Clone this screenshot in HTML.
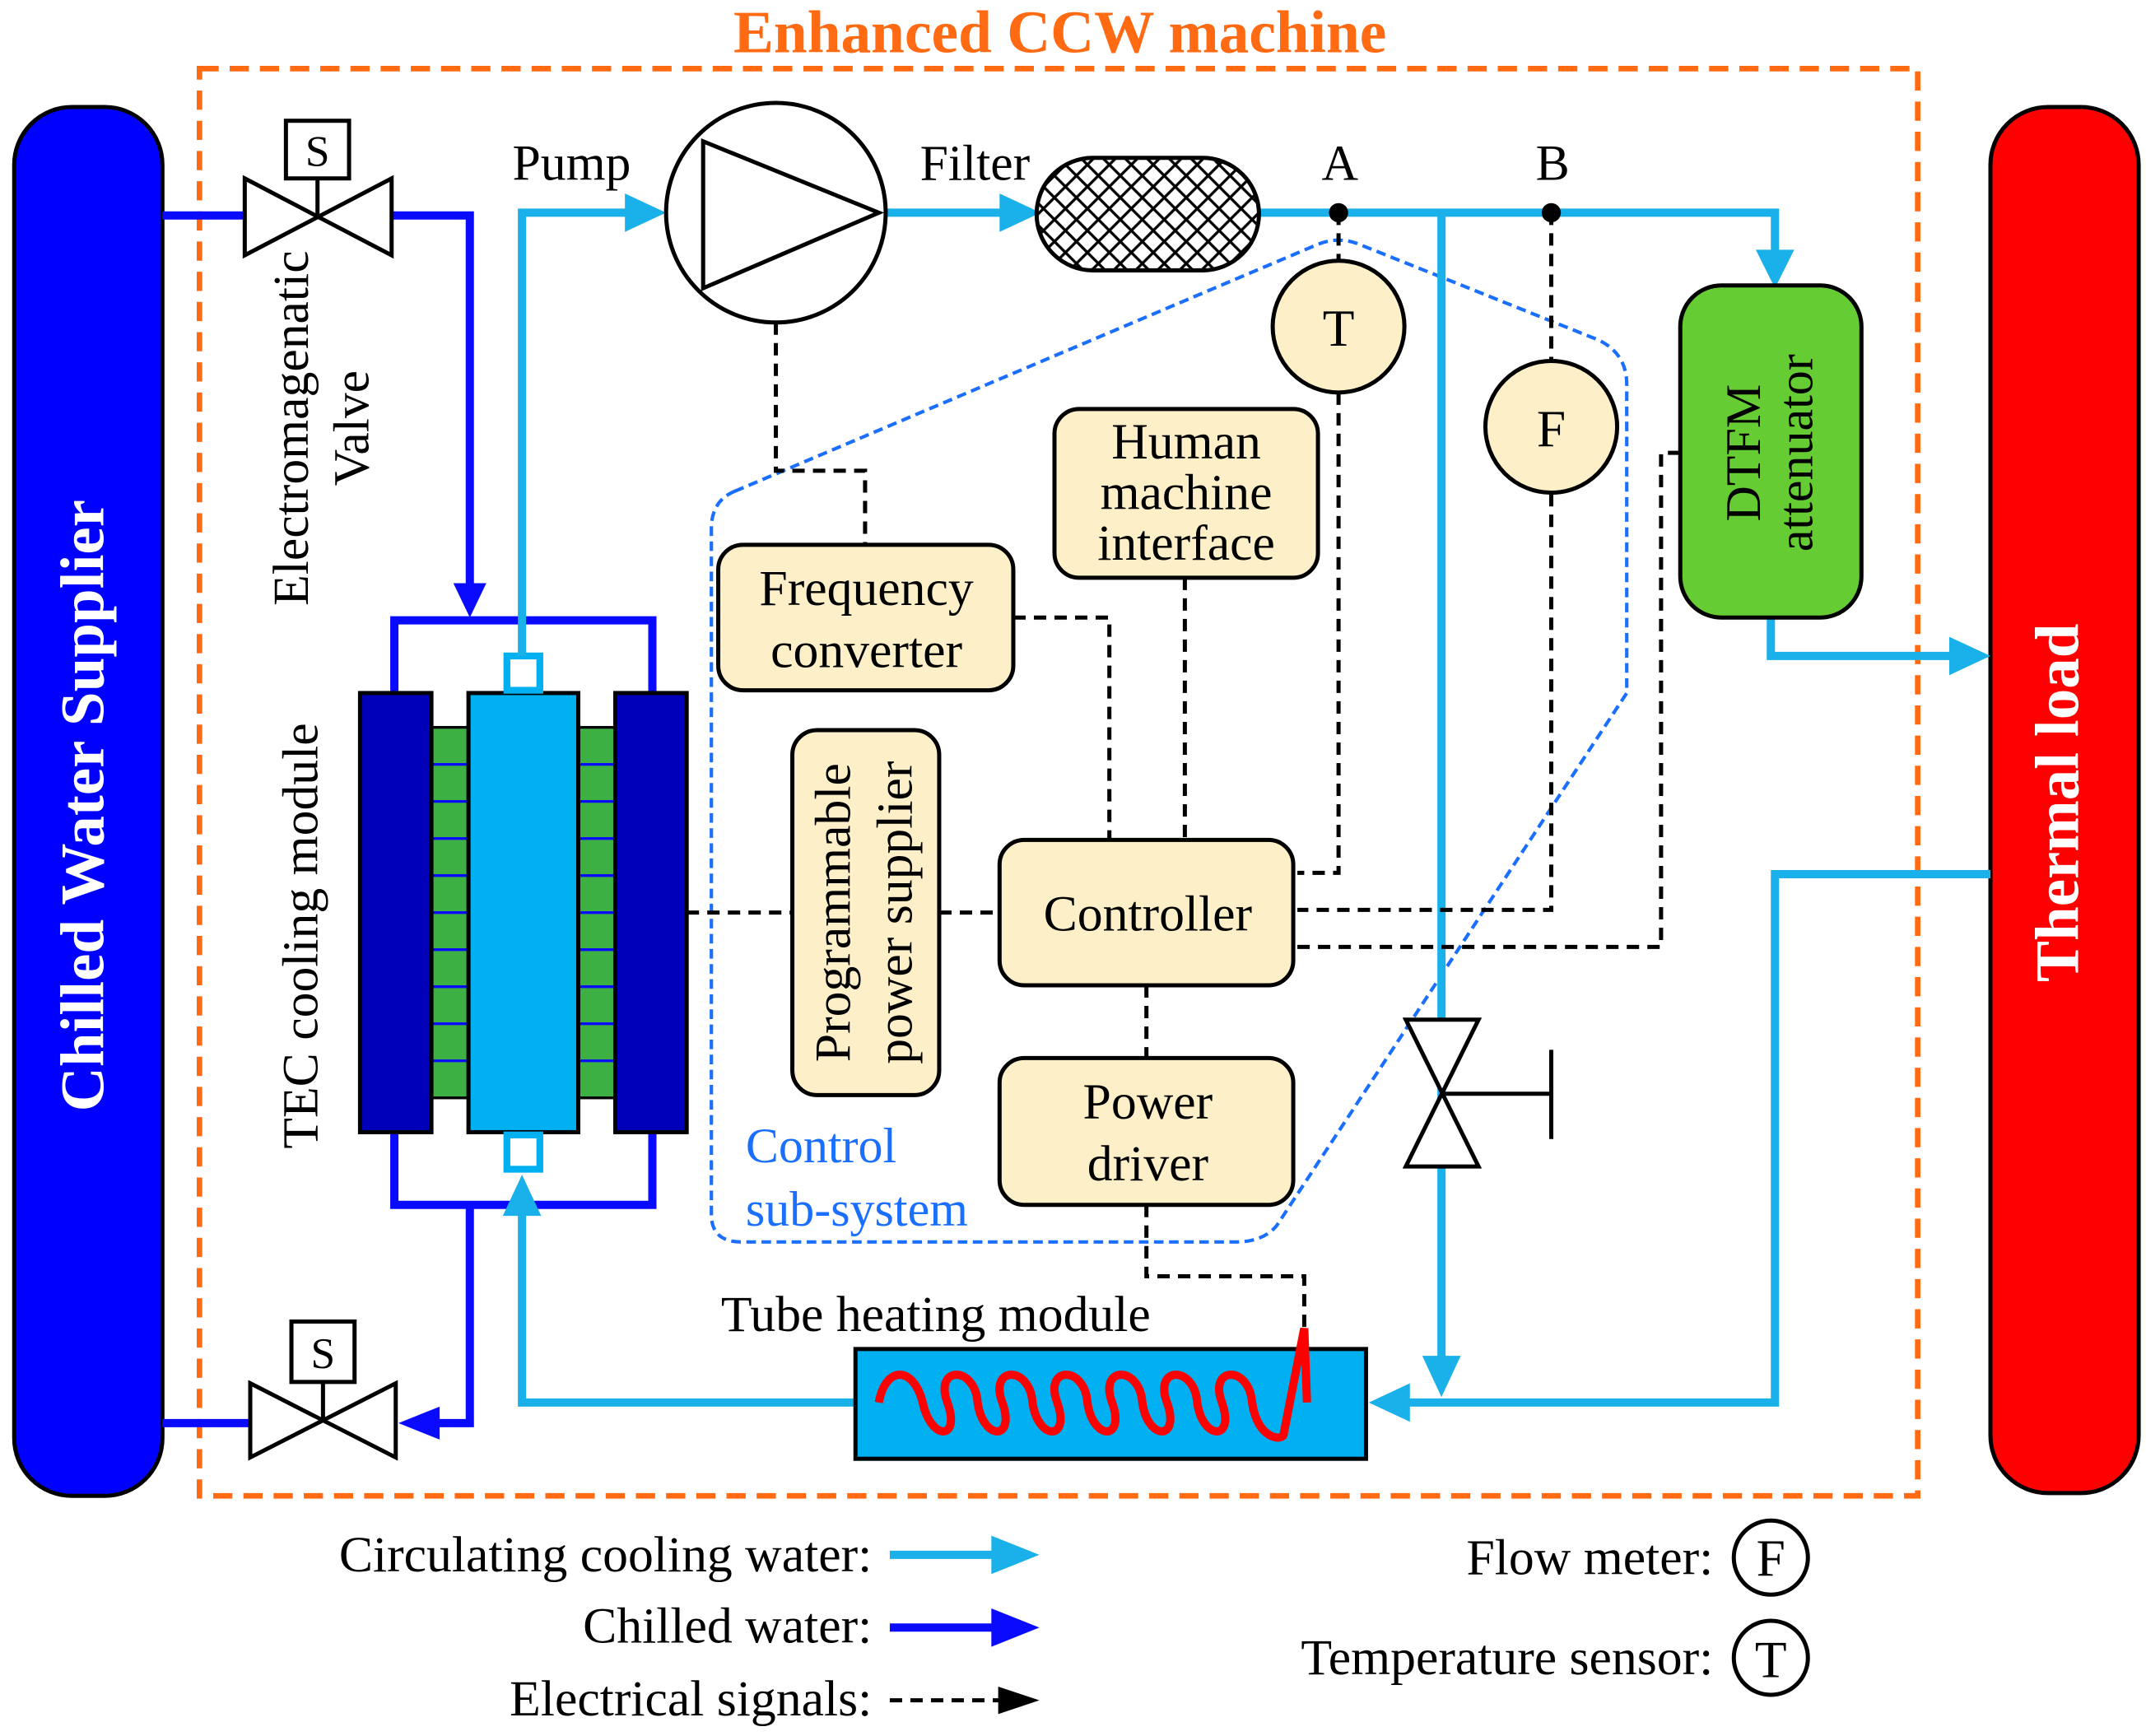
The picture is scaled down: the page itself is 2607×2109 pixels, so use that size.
<!DOCTYPE html>
<html><head><meta charset="utf-8"><style>
html,body{margin:0;padding:0;background:#fff}
svg{display:block}
text{font-family:"Liberation Serif",serif}
</style></head><body>
<svg width="2607" height="2109" viewBox="0 0 1563 1265" xmlns="http://www.w3.org/2000/svg">
<defs>
<pattern id="hatch" width="16" height="16" patternUnits="userSpaceOnUse">
<rect width="16" height="16" fill="#fff"/>
<path d="M0 0L16 16M16 0L0 16" stroke="#000" stroke-width="2"/>
</pattern>
</defs>
<!-- title -->
<text x="772" y="38" font-size="44" font-weight="bold" fill="#ff6a13" text-anchor="middle">Enhanced CCW machine</text>
<rect x="145" y="50" width="1252" height="1040" fill="none" stroke="#ff6a13" stroke-width="4" stroke-dasharray="14,8"/>
<!-- side blocks -->
<rect x="10" y="78" width="108" height="1012" rx="42" fill="#0000ff" stroke="#000" stroke-width="3"/>
<text transform="translate(75,587) rotate(-90)" font-size="45" font-weight="bold" fill="#fff" text-anchor="middle">Chilled Water Supplier</text>
<rect x="1450" y="78" width="108" height="1010" rx="42" fill="#ff0000" stroke="#000" stroke-width="3"/>
<text transform="translate(1514,585) rotate(-90)" font-size="45" font-weight="bold" fill="#fff" text-anchor="middle">Thermal load</text>

<!-- control subsystem -->
<path d="M535 358 L960 178 Q975 172 990 178 L1165 248 Q1185 258 1185 280 L1185 505 L930 893 Q920 905 900 905 L540 905 Q518 905 518 885 L518 385 Q518 365 535 358 Z" fill="none" stroke="#1a6fff" stroke-width="2.5" stroke-dasharray="7,4"/>
<text x="543" y="847" font-size="36" fill="#1a6fff">Control</text>
<text x="543" y="893" font-size="36" fill="#1a6fff">sub-system</text>

<!-- chilled water lines -->
<g stroke="#0a0aff" stroke-width="6" fill="none">
<path d="M118 157H178M285 157H342V432"/>
<path d="M118 1037H182M312 1037H342V878"/>
</g>
<polygon points="330,425 354,425 342,450" fill="#0a0aff"/>
<polygon points="290,1037 320,1025 320,1049" fill="#0a0aff"/>
<!-- top valve -->
<rect x="208" y="88" width="46" height="42" fill="#fff" stroke="#000" stroke-width="3"/>
<text x="231" y="121" font-size="32" text-anchor="middle">S</text>
<line x1="231" y1="130" x2="231" y2="157" stroke="#000" stroke-width="3"/>
<polygon points="178,130 285,186 285,130 178,186" fill="#fff" stroke="#000" stroke-width="3"/>
<!-- bottom valve -->
<rect x="212" y="963" width="46" height="44" fill="#fff" stroke="#000" stroke-width="3"/>
<text x="235" y="997" font-size="32" text-anchor="middle">S</text>
<line x1="235" y1="1007" x2="235" y2="1035" stroke="#000" stroke-width="3"/>
<polygon points="182,1008 288,1062 288,1008 182,1062" fill="#fff" stroke="#000" stroke-width="3"/>
<text transform="translate(224,312) rotate(-90)" font-size="37" text-anchor="middle">Electromagenatic</text>
<text transform="translate(268,312) rotate(-90)" font-size="37" text-anchor="middle">Valve</text>
<text transform="translate(231,682) rotate(-90)" font-size="37" text-anchor="middle">TEC cooling module</text>

<!-- TEC module -->
<path d="M287 505V452H475V505M287 825V878H475V825" fill="none" stroke="#0a0aff" stroke-width="6"/>
<rect x="314" y="530" width="27" height="270" fill="#3cb043" stroke="#000" stroke-width="2"/>
<rect x="421" y="530" width="27" height="270" fill="#3cb043" stroke="#000" stroke-width="2"/>
<g stroke="#0a0aff" stroke-width="2">
<path d="M314 557H341M314 584H341M314 611H341M314 638H341M314 665H341M314 692H341M314 719H341M314 746H341M314 773H341"/>
<path d="M421 557H448M421 584H448M421 611H448M421 638H448M421 665H448M421 692H448M421 719H448M421 746H448M421 773H448"/>
</g>
<rect x="262" y="505" width="52" height="320" fill="#0000b8" stroke="#000" stroke-width="3"/>
<rect x="448" y="505" width="52" height="320" fill="#0000b8" stroke="#000" stroke-width="3"/>
<rect x="341" y="505" width="80" height="320" fill="#00b0f0" stroke="#000" stroke-width="3"/>
<rect x="369" y="478" width="24" height="25" fill="#fff" stroke="#00b0f0" stroke-width="5"/>
<rect x="369" y="827" width="24" height="25" fill="#fff" stroke="#00b0f0" stroke-width="5"/>

<!-- circulating lines -->
<g stroke="#1ab0ea" stroke-width="6" fill="none">
<path d="M380 478V155H462"/>
<path d="M645 155H735"/>
<path d="M917 155H1293V190"/>
<path d="M1050 155V990"/>
<path d="M1290 450V478H1425"/>
<path d="M1450 637H1293V1022H1022"/>
<path d="M623 1022H380V880"/>
</g>
<g fill="#1ab0ea">
<polygon points="485,155 455,141 455,169"/>
<polygon points="758,155 728,141 728,169"/>
<polygon points="1293,210 1279,182 1307,182"/>
<polygon points="1050,1018 1036,988 1064,988"/>
<polygon points="1450,478 1420,464 1420,492"/>
<polygon points="997,1022 1027,1008 1027,1036"/>
<polygon points="380,856 366,886 394,886"/>
</g>
<!-- pump -->
<circle cx="565" cy="155" r="80" fill="#fff" stroke="#000" stroke-width="3"/>
<polygon points="512,103 512,210 640,155" fill="#fff" stroke="#000" stroke-width="3"/>
<text x="373" y="131" font-size="37">Pump</text>
<text x="670" y="131" font-size="37">Filter</text>
<rect x="755" y="115" width="162" height="82" rx="41" fill="url(#hatch)" stroke="#000" stroke-width="3"/>
<text x="976" y="131" font-size="37" text-anchor="middle">A</text>
<text x="1131" y="131" font-size="37" text-anchor="middle">B</text>
<circle cx="975" cy="155" r="7" fill="#000"/>
<circle cx="1130" cy="155" r="7" fill="#000"/>
<!-- manual valve -->
<polygon points="1024,743 1077,743 1024,850 1077,850" fill="#fff" stroke="#000" stroke-width="3"/>
<path d="M1050 797H1130M1130 765V830" stroke="#000" stroke-width="3"/>

<!-- dashed signals -->
<g stroke="#000" stroke-width="3" fill="none" stroke-dasharray="9,6">
<path d="M975 155V190M975 286V636H945"/>
<path d="M1130 155V263M1130 360V663H945"/>
<path d="M1224 330H1210V690H945"/>
<path d="M565 235V343H630V397"/>
<path d="M738 450H808V612"/>
<path d="M863 421V612"/>
<path d="M500 665H577M684 665H728"/>
<path d="M835 718V771"/>
<path d="M835 878V930H950V985"/>
</g>
<!-- sensors -->
<circle cx="975" cy="238" r="48" fill="#fdefc8" stroke="#000" stroke-width="3"/>
<text x="975" y="252" font-size="38" text-anchor="middle">T</text>
<circle cx="1130" cy="311" r="48" fill="#fdefc8" stroke="#000" stroke-width="3"/>
<text x="1130" y="325" font-size="38" text-anchor="middle">F</text>
<!-- DTFM -->
<rect x="1224" y="208" width="132" height="242" rx="30" fill="#66cc33" stroke="#000" stroke-width="3"/>
<text transform="translate(1282,330) rotate(-90)" font-size="36" text-anchor="middle">DTFM</text>
<text transform="translate(1320,330) rotate(-90)" font-size="36" text-anchor="middle">attenuator</text>
<!-- boxes -->
<g fill="#fdefc8" stroke="#000" stroke-width="3">
<rect x="523" y="397" width="215" height="106" rx="18"/>
<rect x="768" y="298" width="192" height="123" rx="18"/>
<rect x="577" y="532" width="107" height="266" rx="18"/>
<rect x="728" y="612" width="214" height="106" rx="18"/>
<rect x="728" y="771" width="214" height="107" rx="18"/>
</g>
<g font-size="37" text-anchor="middle">
<text x="631" y="441">Frequency</text>
<text x="631" y="486">converter</text>
<text x="864" y="334">Human</text>
<text x="864" y="371">machine</text>
<text x="864" y="408">interface</text>
<text x="836" y="678">Controller</text>
<text x="836" y="815">Power</text>
<text x="836" y="860">driver</text>
<text transform="translate(619,665) rotate(-90)">Programmable</text>
<text transform="translate(664,665) rotate(-90)">power supplier</text>
</g>
<!-- tube heating -->
<text x="525" y="970" font-size="37">Tube heating module</text>
<rect x="623" y="983" width="372" height="80" fill="#00b0f0" stroke="#000" stroke-width="3"/>
<path d="M640 1022 C645 995,665 995,672 1022 C678 1050,700 1050,690 1022 C680 995,710 995,712 1022 C716 1050,740 1050,730 1022 C720 995,750 995,752 1022 C756 1050,780 1050,770 1022 C760 995,790 995,792 1022 C796 1050,820 1050,810 1022 C800 995,830 995,832 1022 C836 1050,860 1050,850 1022 C840 995,870 995,872 1022 C876 1050,900 1050,890 1022 C880 995,910 995,912 1022 C916 1050,935 1050,935 1045 L950 968 L952 1022" fill="none" stroke="#ff0000" stroke-width="6"/>

<!-- legend -->
<g font-size="37">
<text x="635" y="1145" text-anchor="end">Circulating cooling water:</text>
<text x="635" y="1197" text-anchor="end">Chilled water:</text>
<text x="635" y="1250" text-anchor="end">Electrical signals:</text>
<text x="1248" y="1147" text-anchor="end">Flow meter:</text>
<text x="1248" y="1220" text-anchor="end">Temperature sensor:</text>
<text x="1290" y="1148" text-anchor="middle" font-size="38">F</text>
<text x="1290" y="1222" text-anchor="middle" font-size="38">T</text>
</g>
<path d="M648 1133H725" stroke="#1ab0ea" stroke-width="6"/>
<polygon points="757,1133 722,1119 722,1147" fill="#1ab0ea"/>
<path d="M648 1186H725" stroke="#0a0aff" stroke-width="6"/>
<polygon points="757,1186 722,1172 722,1200" fill="#0a0aff"/>
<path d="M648 1239H730" stroke="#000" stroke-width="3" stroke-dasharray="9,6"/>
<polygon points="757,1239 727,1229 727,1249" fill="#000"/>
<circle cx="1290" cy="1135" r="27" fill="none" stroke="#000" stroke-width="3"/>
<circle cx="1290" cy="1208" r="27" fill="none" stroke="#000" stroke-width="3"/>
</svg>
</body></html>
